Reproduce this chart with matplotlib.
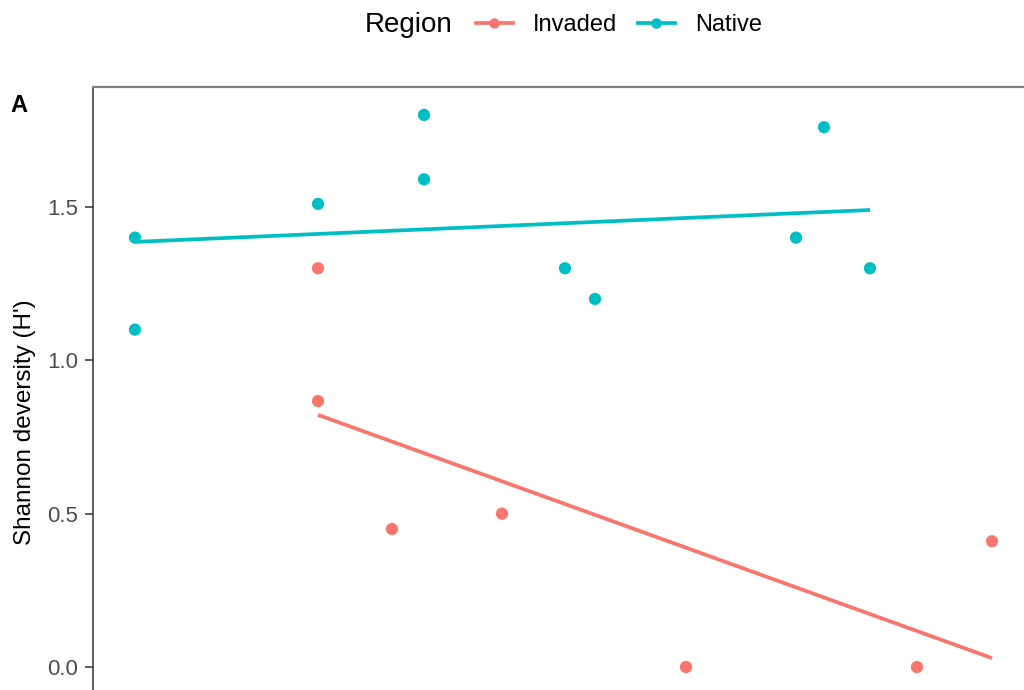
import matplotlib
matplotlib.use("Agg")
import matplotlib.pyplot as plt
from matplotlib.lines import Line2D

plt.rcParams["font.family"] = ["Liberation Sans", "DejaVu Sans"]

RED = "#F8766D"
CYAN = "#00BFC4"

# observed Shannon diversity per site
native_x = [4.2, 4.2, 22.5, 33.1, 33.1, 47.2, 50.2, 70.3, 73.1, 77.7]
native_h = [1.40, 1.10, 1.51, 1.80, 1.59, 1.30, 1.20, 1.40, 1.76, 1.30]
invaded_x = [22.5, 22.5, 29.9, 40.9, 59.3, 82.4, 89.9]
invaded_h = [1.30, 0.867, 0.45, 0.50, 0.0, 0.0, 0.41]

# fitted trends (endpoints over each group's range)
native_fit_x = [4.2, 77.7]
native_fit_h = [1.386, 1.490]
invaded_fit_x = [22.5, 89.9]
invaded_fit_h = [0.822, 0.029]

yticks = [0.0, 0.5, 1.0, 1.5]

fig = plt.figure(figsize=(10.24, 6.9), dpi=100)
ax = fig.add_axes([93 / 1024, 0, 931 / 1024, 603 / 690])

ax.plot(invaded_fit_x, invaded_fit_h, color=RED, lw=2.7, solid_capstyle="butt", zorder=2)
ax.plot(native_fit_x, native_fit_h, color=CYAN, lw=2.7, solid_capstyle="butt", zorder=2)
ax.scatter(invaded_x, invaded_h, s=78, color=RED, edgecolors="none", zorder=3)
ax.scatter(native_x, native_h, s=78, color=CYAN, edgecolors="none", zorder=3)

ax.set_xlim(0, 93.1)
ax.set_ylim(-0.075, 1.891)
ax.set_xticks([])
ax.set_yticks(yticks, [f"{v:.1f}" for v in yticks])
ax.tick_params(axis="y", length=6, width=1.1, color="#333333",
               labelcolor="#4D4D4D", labelsize=16, pad=4.5)

for side in ["right", "bottom"]:
    ax.spines[side].set_visible(False)
ax.spines["left"].set_color("#333333")
ax.spines["left"].set_linewidth(1.1)
ax.spines["top"].set_color("#7F7F7F")
ax.spines["top"].set_linewidth(1.6)

ax.set_ylabel("Shannon deversity (H')", fontsize=17.5, color="black")
ax.yaxis.set_label_coords(-0.061, 0.444)

fig.text(10 / 1024, 1 - 106 / 690, "A", fontsize=17, fontweight="bold", va="center")

fig.text(365 / 1024, 1 - 25 / 690, "Region", fontsize=20, va="center")
handles = [Line2D([0], [0], color=RED, lw=2.7, marker="o", markersize=7.5, markeredgewidth=0),
           Line2D([0], [0], color=CYAN, lw=2.7, marker="o", markersize=7.5, markeredgewidth=0)]
fig.legend(handles, ["Invaded", "Native"], loc="center left",
           bbox_to_anchor=(476 / 1024, 1 - 25 / 690), ncol=2, frameon=False,
           fontsize=17, handlelength=1.55, handletextpad=0.85, columnspacing=0.9,
           borderaxespad=0, borderpad=0)

fig.savefig("out.png", dpi=100, facecolor="white")
